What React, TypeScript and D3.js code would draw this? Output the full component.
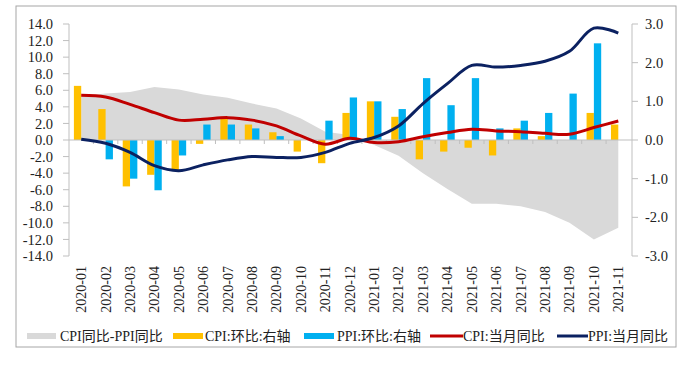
import * as d3 from 'd3'

const months = [
  '2020-01', '2020-02', '2020-03', '2020-04', '2020-05', '2020-06', '2020-07', '2020-08',
  '2020-09', '2020-10', '2020-11', '2020-12', '2021-01', '2021-02', '2021-03', '2021-04',
  '2021-05', '2021-06', '2021-07', '2021-08', '2021-09', '2021-10', '2021-11',
]
// left axis
const cpiYoy = [5.4, 5.2, 4.3, 3.3, 2.4, 2.5, 2.7, 2.4, 1.7, 0.5, -0.5, 0.2, -0.3, -0.2, 0.4, 0.9, 1.3, 1.1, 1.0, 0.8, 0.7, 1.5, 2.3]
const ppiYoy = [0.1, -0.4, -1.5, -3.1, -3.7, -3.0, -2.4, -2.0, -2.1, -2.1, -1.5, -0.4, 0.3, 1.7, 4.4, 6.8, 9.0, 8.8, 9.0, 9.5, 10.7, 13.5, 12.9]
const spread = [5.3, 5.6, 5.8, 6.4, 6.1, 5.5, 5.1, 4.4, 3.8, 2.6, 1.0, 0.6, -0.6, -1.9, -4.0, -5.9, -7.7, -7.7, -8.0, -8.7, -10.0, -12.0, -10.6]
// right axis
const cpiMom = [1.4, 0.8, -1.2, -0.9, -0.8, -0.1, 0.6, 0.4, 0.2, -0.3, -0.6, 0.7, 1.0, 0.6, -0.5, -0.3, -0.2, -0.4, 0.3, 0.1, 0.0, 0.7, 0.4]
const ppiMom = [0.0, -0.5, -1.0, -1.3, -0.4, 0.4, 0.4, 0.3, 0.1, 0.0, 0.5, 1.1, 1.0, 0.8, 1.6, 0.9, 1.6, 0.3, 0.5, 0.7, 1.2, 2.5, 0.0]

const leftTicks = [14, 12, 10, 8, 6, 4, 2, 0, -2, -4, -6, -8, -10, -12, -14]
const rightTicks = [3, 2, 1, 0, -1, -2, -3]

const W = 682
const H = 367
const font = '"Liberation Serif", "Times New Roman", "Noto Sans CJK SC", serif'
const axisColor = '#bfbfbf'
const colors = { spread: '#d9d9d9', cpiMom: '#ffc000', ppiMom: '#00b0f0', cpiYoy: '#c00000', ppiYoy: '#0b2161' }

export default function App() {
  const x = d3.scaleBand().domain(months).range([69, 630.5])
  const inner = d3.scaleBand().domain(['cpi', 'ppi']).range([0, x.bandwidth()]).paddingOuter(0.67)
  const yL = d3.scaleLinear().domain([-14, 14]).range([256, 24])
  const yR = d3.scaleLinear().domain([-3, 3]).range([256, 24])
  const cx = (m: string) => (x(m) ?? 0) + x.bandwidth() / 2

  const area = d3.area<number>()
    .x((_, i) => cx(months[i]))
    .y0(yL(0))
    .y1(d => yL(d))
  const line = d3.line<number>()
    .x((_, i) => cx(months[i]))
    .y(d => yL(d))
    .curve(d3.curveCatmullRom.alpha(0.5))

  const barY = (v: number) => Math.min(yR(v), yR(0))
  const barH = (v: number) => Math.abs(yR(v) - yR(0))

  const legend = [
    { label: 'CPI同比-PPI同比', kind: 'rect', color: colors.spread, x: 27, w: 29, tx: 60 },
    { label: 'CPI:环比:右轴', kind: 'rect', color: colors.cpiMom, x: 173, w: 30, tx: 205 },
    { label: 'PPI:环比:右轴', kind: 'rect', color: colors.ppiMom, x: 304, w: 30, tx: 337 },
    { label: 'CPI:当月同比', kind: 'line', color: colors.cpiYoy, x: 430, w: 33, tx: 463 },
    { label: 'PPI:当月同比', kind: 'line', color: colors.ppiYoy, x: 557, w: 31, tx: 588 },
  ]

  return (
    <div style={{ position: 'absolute', left: 0, top: 0 }}>
      <svg width={W} height={H} style={{ display: 'block', fontFamily: font }}>
        <rect x={0} y={0} width={W} height={H} fill='#ffffff' />
        <rect x={16} y={6} width={660} height={341} fill='none' stroke='#a6a6a6' strokeWidth={1} />

        {/* spread area */}
        <path d={area(spread) ?? ''} fill={colors.spread} />

        {/* bars */}
        {cpiMom.map((v, i) => (
          <rect key={'c' + i} x={(x(months[i]) ?? 0) + (inner('cpi') ?? 0)} y={barY(v)}
            width={inner.bandwidth()} height={barH(v)} fill={colors.cpiMom} />
        ))}
        {ppiMom.map((v, i) => (
          <rect key={'p' + i} x={(x(months[i]) ?? 0) + (inner('ppi') ?? 0)} y={barY(v)}
            width={inner.bandwidth()} height={barH(v)} fill={colors.ppiMom} />
        ))}

        {/* zero line with category ticks */}
        <line x1={69} x2={632} y1={yL(0)} y2={yL(0)} stroke={axisColor} />
        {months.slice(1).map(m => (
          <line key={m} x1={x(m)} x2={x(m)} y1={yL(0)} y2={yL(0) + 4} stroke={axisColor} />
        ))}

        {/* lines */}
        <path d={line(cpiYoy) ?? ''} fill='none' stroke={colors.cpiYoy} strokeWidth={3} />
        <path d={line(ppiYoy) ?? ''} fill='none' stroke={colors.ppiYoy} strokeWidth={3} />

        {/* left axis */}
        <line x1={69} x2={69} y1={yL(14)} y2={yL(-14)} stroke={axisColor} />
        {leftTicks.map(t => (
          <g key={t}>
            <line x1={63} x2={69} y1={yL(t)} y2={yL(t)} stroke={axisColor} />
            <text x={53} y={yL(t)} dy='0.35em' textAnchor='end' fontSize={14.5} fill='#222'>{t.toFixed(1)}</text>
          </g>
        ))}

        {/* right axis */}
        <line x1={632} x2={632} y1={yR(3)} y2={yR(-3)} stroke={axisColor} />
        {rightTicks.map(t => (
          <g key={t}>
            <line x1={632} x2={638} y1={yR(t)} y2={yR(t)} stroke={axisColor} />
            <text x={645} y={yR(t)} dy='0.35em' textAnchor='start' fontSize={14.5} fill='#222'>{t.toFixed(1)}</text>
          </g>
        ))}

        {/* category labels */}
        {months.map(m => (
          <text key={m} transform={`translate(${cx(m)},266) rotate(-90)`} dy='0.35em'
            textAnchor='end' fontSize={14} fill='#222'>{m}</text>
        ))}

        {/* legend */}
        {legend.map(l => (
          <g key={l.label}>
            {l.kind === 'rect'
              ? <rect x={l.x} y={333} width={l.w} height={6} fill={l.color} />
              : <line x1={l.x} x2={l.x + l.w} y1={336} y2={336} stroke={l.color} strokeWidth={3} />}
            <text x={l.tx} y={336} dy='0.35em' fontSize={14} fill='#222'>{l.label}</text>
          </g>
        ))}
      </svg>
    </div>
  )
}
